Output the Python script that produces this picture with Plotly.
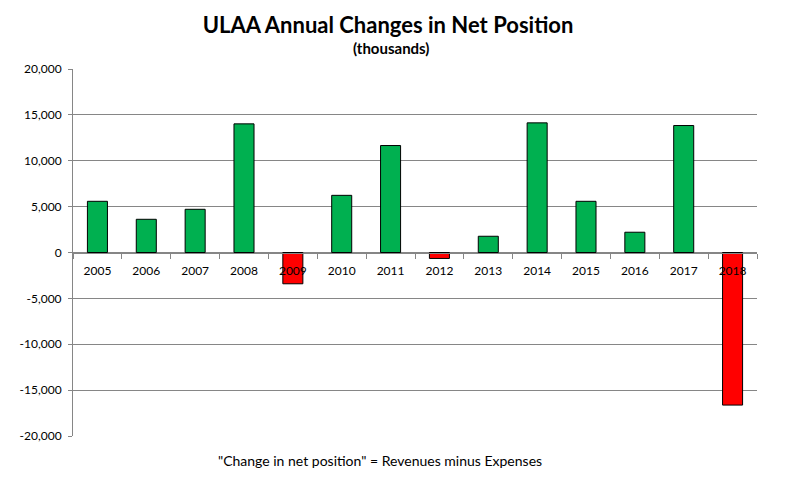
import plotly.graph_objects as go

years = ["2005", "2006", "2007", "2008", "2009", "2010", "2011",
         "2012", "2013", "2014", "2015", "2016", "2017", "2018"]
changes = [5580, 3620, 4710, 14020, -3410, 6230, 11660,
           -650, 1770, 14130, 5580, 2210, 13840, -16630]
y_tick_vals = [20000, 15000, 10000, 5000, 0, -5000, -10000, -15000, -20000]
y_tick_text = ["20,000", "15,000", "10,000", "5,000", "0",
               "-5,000", "-10,000", "-15,000", "-20,000"]

GREEN = "#00B050"
RED = "#FF0000"
colors = [GREEN if v >= 0 else RED for v in changes]

FONT = "Lato, 'Open Sans', sans-serif"

W, H = 778, 486
L, R, T, B = 59, 29, 61, 58
PH = H - T - B
PW = W - L - R

fig = go.Figure()
fig.add_trace(go.Bar(
    x=years, y=changes,
    marker=dict(color=colors, line=dict(color="black", width=1)),
    width=0.41,
    hoverinfo="x+y",
))

fig.update_layout(
    width=W, height=H,
    paper_bgcolor="white", plot_bgcolor="white",
    margin=dict(l=L, r=R, t=T, b=B),
    showlegend=False,
    font=dict(family=FONT, size=12, color="black"),
    title=dict(
        text="<b>ULAA Annual Changes in Net Position</b>",
        x=380 / W, xanchor="center", xref="container",
        y=1 - 17 / H, yanchor="middle", yref="container",
        font=dict(family=FONT, size=22, color="black"),
    ),
    xaxis=dict(
        type="category",
        anchor="free", position=0.5,
        showline=True, linecolor="#868686", linewidth=1,
        ticks="outside", ticklen=5, tickcolor="#868686",
        tickson="boundaries",
        showgrid=False, zeroline=False,
        tickfont=dict(family=FONT, size=12, color="black"),
        ticklabelstandoff=7,
        layer="above traces",
    ),
    yaxis=dict(
        range=[-20000, 20000],
        tickvals=y_tick_vals, ticktext=y_tick_text,
        showgrid=True, gridcolor="#868686", gridwidth=1,
        zeroline=False,
        showline=True, linecolor="#868686", linewidth=1,
        ticks="outside", ticklen=4, tickcolor="#868686",
        ticklabelstandoff=4,
        tickfont=dict(family=FONT, size=12, color="black"),
    ),
    annotations=[
        dict(text="<b>(thousands)</b>", xref="paper", yref="paper",
             x=(380 - L) / PW, y=1 + (T - 40) / PH,
             xanchor="center", yanchor="middle", showarrow=False,
             font=dict(family=FONT, size=15, color="black")),
        dict(text="\"Change in net position\" = Revenues minus Expenses",
             xref="paper", yref="paper",
             x=(369 - L) / PW, y=-(452 - (H - B)) / PH,
             xanchor="center", yanchor="middle", showarrow=False,
             font=dict(family=FONT, size=14, color="black")),
    ],
)

fig.write_html("out.html")
